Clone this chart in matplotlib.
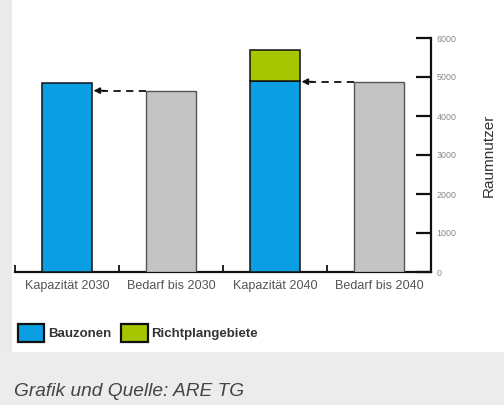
import matplotlib
matplotlib.use("Agg")
import matplotlib.pyplot as plt
from matplotlib.patches import Rectangle, Patch

plt.rcParams["font.family"] = ["Liberation Sans", "DejaVu Sans"]

categories = ["Kapazität 2030", "Bedarf bis 2030", "Kapazität 2040", "Bedarf bis 2040"]
bauzonen = [4850, 0, 4900, 0]
richtplan = [0, 0, 800, 0]
bedarf = [0, 4650, 0, 4880]
y_ticks = [0, 1000, 2000, 3000, 4000, 5000, 6000]

BLUE = "#0a9fe2"
GREEN = "#a6c600"
GRAY = "#c4c4c4"

fig = plt.figure(figsize=(5.04, 4.05), dpi=100)
fig.patch.set_facecolor("#ffffff")

# page background: grey margin on the left, grey caption band below
fig.patches.append(Rectangle((0, 0), 12 / 504, 1, transform=fig.transFigure,
                             facecolor="#ebebeb", edgecolor="none", zorder=-5))
fig.patches.append(Rectangle((0, 0), 1, 53 / 405, transform=fig.transFigure,
                             facecolor="#ececec", edgecolor="none", zorder=-5))

ax = fig.add_axes([15 / 504, 1 - 272 / 405, (431 - 15) / 504, (272 - 38) / 405])
ax.set_facecolor("none")

x = list(range(len(categories)))
w = 0.49
# Bauzonen and Richtplangebiete are stacked on the capacity columns
for i in x:
    if bauzonen[i]:
        ax.bar(i, bauzonen[i], width=w, color=BLUE, edgecolor="#111111", linewidth=1.1, zorder=3)
    if richtplan[i]:
        ax.bar(i, richtplan[i], width=w, bottom=bauzonen[i], color=GREEN,
               edgecolor="#111111", linewidth=1.1, zorder=3)
    if bedarf[i]:
        ax.bar(i, bedarf[i], width=w, color=GRAY, edgecolor="#555555", linewidth=1.0, zorder=3)

# dashed arrows from demand to capacity
for src, dst in [(1, 0), (3, 2)]:
    yv = bedarf[src]
    x0 = src - w / 2
    x1 = dst + w / 2
    ax.plot([x0, x1 + 0.09], [yv, yv], color="#111111", lw=1.3, ls=(0, (4, 3)), zorder=4)
    ax.annotate("", xy=(x1 + 0.01, yv), xytext=(x1 + 0.12, yv),
                arrowprops=dict(arrowstyle="-|>", color="#111111", lw=1.2,
                                mutation_scale=9, shrinkA=0, shrinkB=0), zorder=5)

ax.set_xlim(-0.5, 3.5)
ax.set_ylim(0, 6000)

for s in ["top", "left"]:
    ax.spines[s].set_visible(False)
ax.spines["bottom"].set_linewidth(1.6)
ax.spines["right"].set_linewidth(1.6)
ax.spines["bottom"].set_color("#111111")
ax.spines["right"].set_color("#111111")

# x axis: separators between categories, labels centred under bars
ax.set_xticks([-0.5, 0.5, 1.5, 2.5, 3.5])
ax.set_xticklabels([])
ax.tick_params(axis="x", which="major", direction="in", length=5, width=1.3, color="#111111")
ax.set_xticks(x, minor=True)
ax.set_xticklabels(categories, minor=True, fontsize=9.1, color="#555555")
ax.tick_params(axis="x", which="minor", length=0, pad=6)

ax.yaxis.tick_right()
ax.yaxis.set_label_position("right")
ax.set_yticks(y_ticks)
ax.set_yticklabels([str(v) for v in y_ticks], fontsize=6.4, color="#888888")
ax.tick_params(axis="y", direction="in", length=11, width=1.6, color="#111111", pad=4)
ax.set_ylabel("Raumnutzer", fontsize=11, color="#333333", labelpad=18)

handles = [Patch(facecolor=BLUE, edgecolor="#111111", linewidth=1.6, label="Bauzonen"),
           Patch(facecolor=GREEN, edgecolor="#111111", linewidth=1.6, label="Richtplangebiete")]
leg = fig.legend(handles=handles, loc="center left", bbox_to_anchor=(18 / 504, 1 - 333 / 405),
                 ncol=2, frameon=False, handlelength=2.0, handleheight=1.75,
                 handletextpad=0.25, columnspacing=0.8, borderaxespad=0, borderpad=0,
                 prop={"size": 9.5, "weight": "bold"})
for t in leg.get_texts():
    t.set_color("#333333")

fig.text(14 / 504, 1 - 391 / 405, "Grafik und Quelle: ARE TG", fontsize=13.8,
         style="italic", color="#444444", va="center", ha="left")

fig.savefig("out.png", dpi=100, facecolor=fig.get_facecolor())
